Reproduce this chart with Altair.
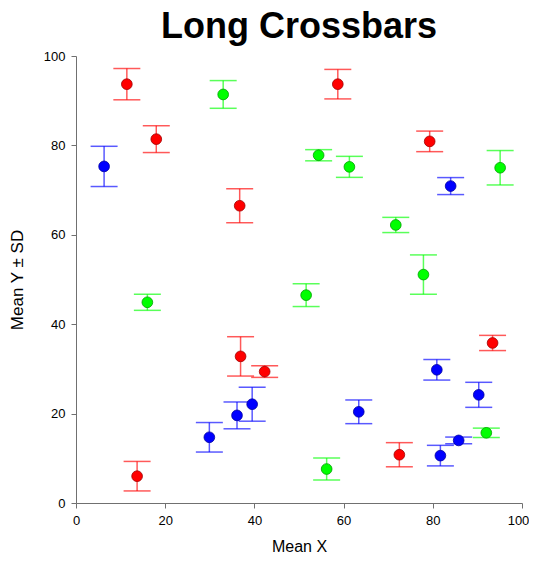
import altair as alt
import pandas as pd

# Red series
red_x = [11.4, 18.0, 36.7, 58.7, 79.3, 13.7, 36.9, 42.3, 93.4, 72.5]
red_y = [93.7, 81.4, 66.5, 93.7, 80.9, 6.0, 32.8, 29.4, 35.8, 10.8]
red_sd = [3.5, 3.0, 3.8, 3.3, 2.3, 3.3, 4.4, 1.3, 1.7, 2.7]

# Green series
green_x = [33.0, 54.4, 61.3, 71.7, 95.1, 77.9, 51.6, 16.0, 56.2, 92.0]
green_y = [91.4, 77.8, 75.2, 62.2, 75.0, 51.1, 46.5, 44.9, 7.6, 15.7]
green_sd = [3.1, 1.25, 2.35, 1.7, 3.85, 4.4, 2.55, 1.8, 2.45, 1.05]

# Blue series
blue_x = [6.3, 84.0, 29.9, 36.1, 39.5, 63.4, 80.9, 90.3, 85.8, 81.7]
blue_y = [75.3, 70.9, 14.7, 19.6, 22.1, 20.4, 29.8, 24.2, 14.0, 10.6]
blue_sd = [4.5, 1.9, 3.3, 3.0, 3.8, 2.65, 2.3, 2.8, 0.75, 2.3]

tick_values = [0, 20, 40, 60, 80, 100]

groups = ["red", "green", "blue"]
colors = ["#FF0000", "#00FF00", "#0000FF"]
strokes = ["#A00000", "#00A000", "#0000A0"]

rows = []
for g, xs, ys, sds in [("red", red_x, red_y, red_sd),
                       ("green", green_x, green_y, green_sd),
                       ("blue", blue_x, blue_y, blue_sd)]:
    for x, y, s in zip(xs, ys, sds):
        rows.append({"g": g, "x": x, "y": y, "lo": y - s, "hi": y + s})
df = pd.DataFrame(rows)

font = "Liberation Sans"
xscale = alt.Scale(domain=[0, 100], nice=False, zero=False)
yscale = alt.Scale(domain=[0, 100], nice=False, zero=False)
cscale = alt.Scale(domain=groups, range=colors)
sscale = alt.Scale(domain=groups, range=strokes)

axis_common = dict(grid=False, domainColor="#707070", tickColor="#707070",
                   tickSize=5, labelFont=font, labelFontSize=13, labelColor="#000000",
                   labelFlush=False, titleFont=font, titleFontWeight="normal",
                   titleColor="#000000", labelPadding=6, values=tick_values)

X = alt.X("x:Q", scale=xscale, axis=alt.Axis(
    title="Mean X", titlePadding=11, titleFontSize=16,
    labelOffset={"condition": {"test": "datum.value == 100", "value": -4}, "value": 0},
    **axis_common))
Y = alt.Y("y:Q", scale=yscale, axis=alt.Axis(title="Mean Y ± SD", titlePadding=17,
                                             titleFontSize=17, **axis_common))

base = alt.Chart(df)

vline = base.mark_rule(strokeWidth=1.5, opacity=0.65).encode(
    x=X, y=alt.Y("lo:Q", scale=yscale), y2="hi:Q",
    color=alt.Color("g:N", scale=cscale, legend=None))

top = base.mark_tick(orient="horizontal", size=27, thickness=1.5, opacity=0.65).encode(
    x=X, y=alt.Y("hi:Q", scale=yscale),
    color=alt.Color("g:N", scale=cscale, legend=None))

bot = base.mark_tick(orient="horizontal", size=27, thickness=1.5, opacity=0.65).encode(
    x=X, y=alt.Y("lo:Q", scale=yscale),
    color=alt.Color("g:N", scale=cscale, legend=None))

pts = base.mark_point(filled=True, shape="circle", size=115, opacity=1, strokeWidth=0.8).encode(
    x=X, y=Y,
    fill=alt.Fill("g:N", scale=cscale, legend=None),
    stroke=alt.Stroke("g:N", scale=sscale, legend=None))

chart = alt.layer(vline, top, bot, pts).properties(
    width=446, height=447,
    autosize=alt.AutoSizeParams(type="none"),
    padding={"left": 68, "top": 48, "right": 7, "bottom": 50},
    title=alt.TitleParams("Long Crossbars", font=font, fontSize=36, fontWeight="bold",
                          color="#000000", anchor="middle", offset=4),
).configure_view(stroke=None)

chart.save("out.html", embed_options={"renderer": "svg", "actions": False})
